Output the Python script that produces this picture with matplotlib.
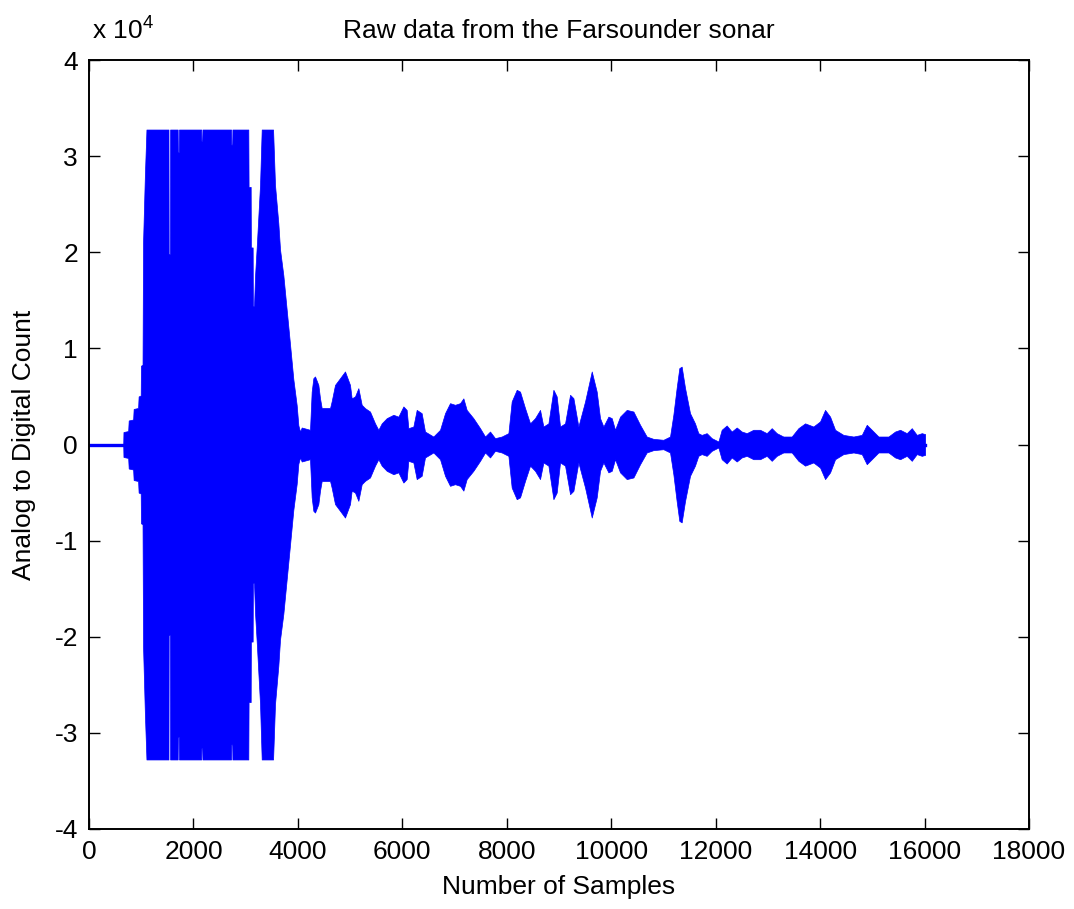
import numpy as np
import matplotlib
matplotlib.use("Agg")
import matplotlib.pyplot as plt

plt.rcParams["font.family"] = ["Liberation Sans", "DejaVu Sans"]
plt.rcParams["mathtext.default"] = "regular"

# Envelope of the raw sonar trace (sample index, peak A/D count).
# The trace is clipped at +/-32767 between ~1100 and ~3500 samples.
sample_idx = [
    0, 655, 660, 750, 760, 845, 855, 940, 950, 990, 995, 1025, 1035, 1070, 1100,
    1522, 1526, 1550, 1554, 1698, 1702, 1720, 1724, 2148, 2152, 2168, 2172,
    2720, 2724, 2742, 2746,
    3051, 3056, 3096, 3100, 3134, 3138, 3160, 3179, 3211, 3275, 3307,
    3525, 3562, 3626, 3658, 3722, 3786, 3850, 3913, 3977, 4009, 4041,
    4073, 4232, 4264, 4296, 4328, 4392, 4424, 4456, 4616, 4647, 4711, 4807,
    4902, 4998, 5030, 5094, 5158, 5222, 5286, 5381, 5477, 5541, 5605, 5701,
    5829, 5924, 6020, 6083, 6115, 6211, 6275, 6370, 6434, 6594, 6722, 6818,
    6913, 7009, 7105, 7169, 7232, 7360, 7488, 7584, 7679, 7775, 7903, 8031,
    8094, 8190, 8254, 8350, 8446, 8541, 8637, 8701, 8797, 8893, 8956, 9020,
    9116, 9212, 9276, 9371, 9499, 9627, 9722, 9786, 9850, 9946, 10010, 10073,
    10169, 10297, 10425, 10552, 10679, 10806, 10998, 11126, 11190, 11253,
    11304, 11349, 11413, 11509, 11604, 11668, 11732, 11828, 11924, 12052,
    12115, 12211, 12307, 12403, 12498, 12594, 12722, 12850, 12977, 13073,
    13169, 13296, 13456, 13584, 13712, 13871, 13999, 14095, 14191, 14287,
    14446, 14638, 14798, 14893, 14989, 15117, 15308, 15436, 15532, 15659,
    15755, 15851, 15947, 16011,
]
peak_count = [
    0, 0, 1300, 1400, 2500, 2600, 3700, 3800, 5000, 5100, 8200, 8300, 21000, 28000, 32767,
    32767, 19800, 19800, 32767, 32767, 30400, 30400, 32767, 32767, 31600, 31600, 32767,
    32767, 31200, 31200, 32767,
    32767, 26800, 26800, 20500, 20500, 14400, 14400, 17500, 20500, 27000, 32767,
    32767, 27000, 23000, 20300, 17600, 14000, 10400, 6800, 4100, 2000, 1350,
    1770, 1530, 5500, 6900, 7080, 6200, 4800, 3800, 3800, 4500, 6200, 6900,
    7600, 6200, 4800, 5000, 5860, 4130, 3780, 3430, 2200, 1530, 2200, 2740,
    3090, 2900, 3960, 3600, 1700, 1870, 3600, 3260, 1350, 830, 1530, 3260,
    4300, 4130, 4300, 4800, 3600, 2740, 1700, 830, 1350, 660, 830, 1180,
    4480, 5690, 5500, 3780, 2200, 2740, 3600, 1870, 2200, 5690, 5000, 1870,
    2200, 5170, 4820, 1870, 4480, 7600, 5500, 2740, 1870, 2900, 2740, 1530,
    2900, 3600, 3430, 2050, 830, 590, 490, 830, 3100, 5900,
    7950, 8100, 5900, 3260, 2200, 1180, 1000, 1180, 660, 310,
    1530, 1980, 1350, 1770, 1350, 1180, 1530, 1530, 1180, 1700,
    1180, 830, 830, 1700, 2200, 1870, 2400, 3600, 2900, 1530,
    1000, 830, 1000, 2050, 1530, 830, 830, 1350, 1530, 1180,
    1700, 1000, 1180, 1080,
]

x_ticks = [0, 2000, 4000, 6000, 8000, 10000, 12000, 14000, 16000, 18000]
y_ticks = [-40000, -30000, -20000, -10000, 0, 10000, 20000, 30000, 40000]
y_tick_labels = ["-4", "-3", "-2", "-1", "0", "1", "2", "3", "4"]

samples = np.array(sample_idx, dtype=float)
env = np.array(peak_count, dtype=float)

fig = plt.figure(figsize=(10.74, 9.09), dpi=100)
ax = fig.add_axes([89 / 1074, 1 - 829 / 909, 940 / 1074, 769 / 909])

trace_color = (0, 0, 1)
ax.fill_between(samples, -env, env, color=trace_color, linewidth=0.5,
                edgecolor=trace_color)
ax.plot(samples, np.zeros_like(samples), color=trace_color, linewidth=2.4)

ax.set_xlim(0, 18000)
ax.set_ylim(-40000, 40000)
ax.set_xticks(x_ticks)
ax.set_xticklabels([str(t) for t in x_ticks])
ax.set_yticks(y_ticks)
ax.set_yticklabels(y_tick_labels)

ax.tick_params(direction="in", length=8, width=1.0, top=True, right=True,
               labelsize=19, pad=8)
for spine in ax.spines.values():
    spine.set_linewidth(1.4)

ax.text(0.003, 1.02, r"x 10$^{4}$", transform=ax.transAxes, fontsize=19,
        ha="left", va="bottom")

ax.set_title("Raw data from the Farsounder sonar", fontsize=19, pad=16)
ax.set_xlabel("Number of Samples", fontsize=19, labelpad=8)
ax.set_ylabel("Analog to Digital Count", fontsize=19, labelpad=13)

fig.savefig("out.png", dpi=100, facecolor="white")
